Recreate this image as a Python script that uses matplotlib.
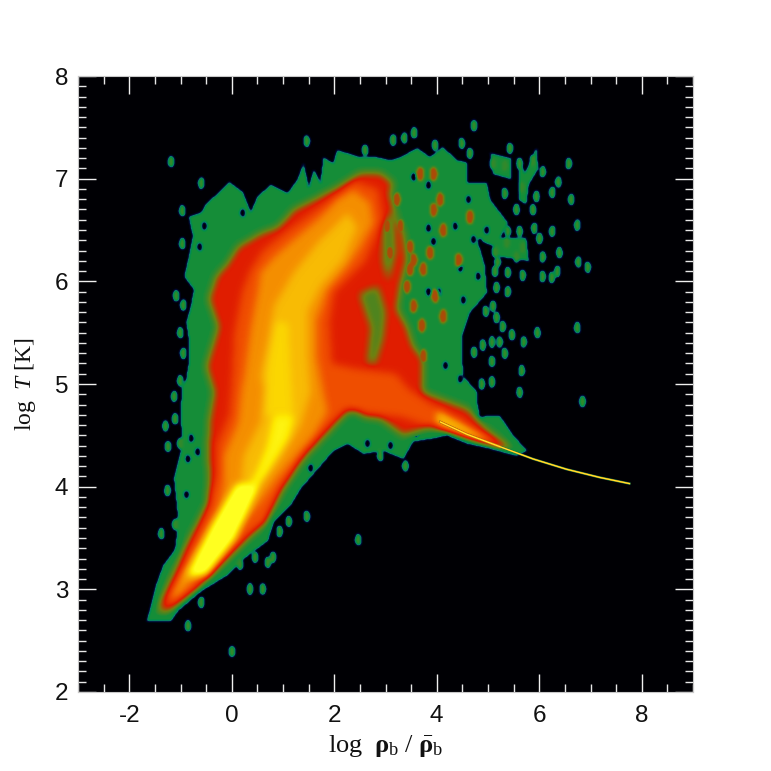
import numpy as np
import matplotlib
matplotlib.use("Agg")
import matplotlib.pyplot as plt
from matplotlib.colors import LinearSegmentedColormap
from matplotlib.path import Path

plt.rcParams["font.family"] = ["Liberation Sans", "DejaVu Sans"]
plt.rcParams["axes.unicode_minus"] = False
plt.rcParams["mathtext.fontset"] = "custom"
plt.rcParams["mathtext.rm"] = "Liberation Serif"
plt.rcParams["mathtext.it"] = "Liberation Serif:italic"
plt.rcParams["mathtext.bf"] = "Liberation Serif:bold"

# iso-density outlines (log rho, log T)
green_rho = [-1.66, -1.19, -1.05, -0.6, -0.08, 0.31, 0.7, 0.82, 1.15, 1.34, 1.67, 1.98, 2.26, 2.57, 2.96, 3.35,
             3.54, 3.93, 4.2, 4.59, 5.04, 5.56, 5.76, 5.49, 5.23, 4.84, 4.79, 4.79, 4.51, 4.49, 4.65, 4.98, 4.94,
             4.79, 5.14, 5.39, 5.04, 4.98, 4.59, 4.59, 4.4, 4.12, 3.87, 3.62, 3.29, 3.09, 2.84, 2.51, 2.06, 1.98,
             1.79, 1.73, 1.6, 1.5, 1.4, 1.28, 1.09, 0.76, 0.5, 0.37, 0.21, -0.06, -0.27, -0.5, -0.6, -0.84, -0.76,
             -0.84, -0.93, -0.74, -0.8, -0.89, -0.84, -0.84, -0.89, -0.97, -1.0, -0.97, -1.13, -1.06, -1.09,
             -1.13, -1.34, -1.48, -1.59]
green_t = [2.69, 2.69, 2.79, 2.98, 3.14, 3.33, 3.47, 3.66, 3.82, 3.98, 4.17, 4.35, 4.42, 4.32, 4.35, 4.27,
           4.44, 4.47, 4.5, 4.42, 4.37, 4.3, 4.35, 4.5, 4.69, 4.68, 4.82, 4.92, 5.08, 5.47, 5.7, 5.89, 6.15,
           6.41, 6.34, 6.57, 6.8, 6.96, 6.96, 7.16, 7.18, 7.31, 7.21, 7.3, 7.21, 7.18, 7.21, 7.21, 7.28, 7.15,
           7.21, 6.96, 7.09, 6.91, 7.15, 6.99, 6.86, 6.94, 6.83, 6.67, 6.87, 6.97, 6.86, 6.76, 6.67, 6.63, 6.44,
           6.24, 6.05, 5.92, 5.76, 5.6, 5.44, 5.21, 5.05, 4.98, 4.73, 4.4, 4.08, 3.75, 3.43,
           3.37, 3.23, 3.04, 2.82]

red_rho = [-1.44, -1.38, -1.13, -0.93, -0.66, -0.47, -0.45, -0.47, -0.45, -0.35, -0.5, -0.27, -0.45, -0.31, -0.08,
           0.12, 0.56, 0.89, 1.21, 1.6, 2.06, 2.51, 2.9, 3.15, 3.09, 3.23, 3.35, 3.42, 3.29, 3.23, 3.42, 3.54,
           3.74, 3.74, 4.59, 4.98, 5.43, 5.37, 4.84, 4.2, 3.87, 3.35, 2.9, 2.57, 2.37, 2.12, 1.73, 1.34, 1.09,
           0.76, 0.5, 0.12, -0.27, -0.74, -1.19]
red_t = [2.77, 2.91, 3.17, 3.4, 3.66, 3.85, 4.08, 4.34, 4.63, 4.92, 5.17, 5.56, 5.83, 6.05, 6.18,
         6.34, 6.47, 6.53, 6.7, 6.8, 6.92, 7.06, 7.06, 6.96, 6.86, 6.6, 6.48, 6.21, 5.95, 5.73, 5.56, 5.37,
         5.24, 4.92, 4.76, 4.56, 4.39, 4.35, 4.45, 4.56, 4.58, 4.5, 4.66, 4.68, 4.79, 4.66, 4.45, 4.24, 4.05,
         3.82, 3.62, 3.47, 3.23, 2.98, 2.79]

redorange_rho = [-1.3, -0.9, -0.5, -0.3, -0.3, -0.05, 0, 0.05, 0.2, 0.35, 0.6, 1.1, 1.7, 2.4, 2.85, 2.95, 2.6,
                 2.0, 1.9, 1.95, 2.4, 3.2, 3.45, 3.9, 4.5, 4.95, 4.5, 3.9, 3.3, 2.6, 2.2, 1.9, 1.45, 1, 0.65, 0.3,
                 -0.2, -0.7, -1.15]
redorange_t = [2.85, 3.3, 3.75, 4.1, 4.4, 4.7, 5.0, 5.5, 5.9, 6.1, 6.3, 6.5, 6.72, 6.98, 6.9, 6.6, 6.2,
               5.9, 5.6, 5.2, 5.15, 5.1, 4.95, 4.8, 4.65, 4.48, 4.5, 4.58, 4.68, 4.72, 4.75, 4.6, 4.35, 4.0, 3.65, 3.5,
               3.25, 3.0, 2.85]

orange_rho = [-1.25, -0.86, -0.54, -0.27, -0.16, -0.16, 0.12, 0.18, 0.23, 0.37, 0.5, 0.56, 0.82, 1.21, 1.67, 2.06,
              2.37, 2.7, 2.76, 2.51, 2.26, 1.87, 1.67, 1.67, 1.79, 1.87, 1.6, 1.21, 0.89, 0.56, 0.18, -0.21, -0.6, -1.05]
orange_t = [2.91, 3.23, 3.52, 3.76, 4.01, 4.3, 4.63, 4.92, 5.05, 5.56, 5.89, 6.09, 6.24, 6.41, 6.6, 6.8,
            6.89, 6.77, 6.57, 6.34, 6.15, 5.92, 5.63, 5.24, 4.92, 4.73, 4.5, 4.27, 4.08, 3.85, 3.62, 3.4, 3.17, 2.94]

amber_rho = [-1.05, -0.74, -0.41, -0.02, 0.18, 0.23, 0.56, 0.62, 0.56, 0.7, 0.82, 1.21, 1.73, 2.26, 2.45, 2.18,
             1.73, 1.48, 1.48, 1.54, 1.34, 0.95, 0.56, 0.18, -0.27, -0.66]
amber_t = [3.04, 3.33, 3.56, 3.82, 4.05, 4.3, 4.63, 4.95, 5.08, 5.41, 5.76, 6.09, 6.41, 6.67, 6.53, 6.21,
           5.95, 5.7, 5.31, 4.92, 4.59, 4.27, 4.01, 3.76, 3.52, 3.27]

yellow_rho = [-0.73, -0.54, -0.16, 0.23, 0.5, 0.7, 0.82, 1.21, 1.09, 0.7, 0.31, -0.08, -0.47, -0.74]
yellow_t = [3.25, 3.4, 3.66, 3.91, 4.15, 4.4, 4.69, 4.69, 4.47, 4.15, 3.85, 3.62, 3.4, 3.17]

upper_yellow_rho = [0.65, 0.7, 0.85, 1.1, 1.15, 1.2]
upper_yellow_t = [4.7, 5.2, 5.6, 5.6, 5.1, 4.7]

core_rho = [-0.85, -0.4, 0.1, 0.5, 0.05, -0.5]
core_t = [3.12, 3.6, 4.02, 4.0, 3.5, 3.15]

ridge_glow_rho = [4.0, 4.5, 5.0, 5.3, 4.5, 4.0]
ridge_glow_t = [4.74, 4.6, 4.46, 4.37, 4.5, 4.62]

# green pockets inside the red part and patches in the sparse upper right
pocket_a_rho = [2.5, 2.85, 3.0, 2.95, 2.8, 2.65, 2.72]
pocket_a_t = [5.88, 5.95, 5.7, 5.45, 5.2, 5.2, 5.55]
pocket_b_rho = [2.95, 3.15, 3.2, 3.05, 2.95]
pocket_b_t = [6.55, 6.7, 6.3, 6.0, 6.2]
patch_a_rho = [5.05, 5.1, 5.45, 5.45]
patch_a_t = [7.25, 7.05, 7.0, 7.2]
patch_b_rho = [5.62, 5.72, 5.95, 5.98, 5.8, 5.75, 5.6, 5.6]
patch_b_t = [7.2, 7.05, 7.3, 7.1, 6.95, 6.75, 6.8, 7.0]
patch_c_rho = [5.1, 5.75, 5.8, 5.15]
patch_c_t = [6.42, 6.42, 6.2, 6.25]

# red and olive specks in the sparse green part
speck_rho = [3.03, 3.22, 3.29, 3.09, 3.48, 3.55, 3.03, 3.09, 3.48, 3.74, 3.87, 3.94, 3.68, 4.13, 4.65, 4.43,
             3.97, 3.71, 3.29, 3.16, 3.48, 3.74, 3.29, 4.13, 3.55, 3.42, 3.94, 4.07]
speck_t = [6.54, 6.8, 6.54, 6.28, 6.34, 6.21, 6.05, 5.89, 6.12, 6.12, 6.28, 6.7, 7.05, 6.5, 6.63, 6.21,
           5.86, 5.57, 5.57, 5.37, 5.31, 5.27, 5.24, 5.66, 5.76, 5.95, 7.05, 6.8]

# the thin cold ridge on the right
ridge_rho = [4.07, 4.59, 5.23, 5.88, 6.53, 7.18, 7.76]
ridge_t = [4.63, 4.51, 4.39, 4.27, 4.17, 4.09, 4.03]

# isolated cells outside the main cloud
blob_rho = [-1.19, 1.46, 3.15, 2.6, -0.6, -0.97, -0.97, -1.09, -0.95, -1.01, -0.95, -1.01,
            -1.13, -1.3, -1.11, -1.25, -1.01, -1.26, -1.11, -1.38, -0.86, 0, 0.35, 0.6, -0.6,
            0.7, 0.8, 0.45, 0.16, 1.46, 1.11, 0.93, 2.47, 5.62, 6.85, 3.39, 2.9,
            4.73, 3.37, 3.56, 3.97, 4.49, 4.65, 5.43, 6.58, 6.38, 6.63, 6.75, 6.26, 6.01,
            6.07, 6.4, 6.36, 6.77, 6.95, 5.68, 6.07, 6.25, 5.39, 6.75, 5.97, 5.7, 5.47,
            5.33, 5.23, 5.08, 4.9, 5.08, 4.73, 5.66, 5.08, 4.88, 6.26, 6.07, 5.88, 5.62,
            5.1, 5.33, 5.66, 5.95, 5.33, 5.56, 5.88, 5.62, 5.39, 5.91, 5.68, 5.56, 5.19,
            5.14, 5.17, 5.14, 5.37, 5.39, 5.1, 5.17, 4.96, 5.29]
blob_t = [7.17, 7.37, 7.38, 7.28, 6.96, 6.69, 6.37, 5.86, 5.77, 5.5, 5.3, 5.03,
          4.88, 4.59, 4.66, 4.39, 4.42, 3.96, 3.63, 3.54, 2.64, 2.39, 3.0, 3.0, 2.87,
          3.26, 3.31, 3.31, 3.24, 3.71, 3.66, 3.56, 3.48, 4.92, 4.83, 4.2, 4.3,
          7.52, 7.4, 7.45, 7.33, 7.35, 7.25, 7.3, 7.15, 6.97, 6.8, 6.55, 6.49, 6.42,
          6.24, 6.28, 6.1, 6.19, 6.14, 6.06, 6.05, 6.04, 5.9, 5.55, 5.5, 5.41, 5.48,
          5.3, 5.41, 5.41, 5.38, 5.22, 5.31, 5.13, 5.02, 5.0, 6.87, 7.07, 7.18, 7.15,
          7.15, 7.13, 6.92, 6.83, 6.86, 6.7, 6.7, 6.49, 6.49, 6.52, 6.33, 6.24, 6.19,
          6.1, 5.94, 6.29, 6.38, 6.09, 5.76, 5.65, 5.71, 5.56]

# gaps inside the sparse green part and along the edges
hole_rho = [4.13, 4.36, 4.85, 4.52, 4.17, 3.84, 3.94, 3.84, 3.55, 3.84, 4.1, 4.62, 4.46, 4.04, 4.72, 4.46, 4.81,
            4.98, -0.54, -0.63, 0.21, -0.8, -0.86, -0.89, -0.67, 1.54, 2.65, 3.1, 3.6]
hole_t = [5.63, 6.54, 6.38, 5.82, 5.18, 6.52, 6.39, 5.9, 7.02, 6.94, 6.8, 6.8, 6.13, 5.9, 6.41, 5.05, 6.05,
          6.5, 6.54, 6.34, 6.67, 4.47, 4.27, 3.92, 4.34, 4.18, 4.42, 4.4, 4.52]

green_layers = [
    (green_rho, green_t, 2), (patch_a_rho, patch_a_t, 2), (patch_b_rho, patch_b_t, 2), (patch_c_rho, patch_c_t, 2),
]
inner_layers = [
    (red_rho, red_t, 4), (pocket_a_rho, pocket_a_t, 2.6), (pocket_b_rho, pocket_b_t, 2.6),
    (redorange_rho, redorange_t, 5), (ridge_glow_rho, ridge_glow_t, 7), (orange_rho, orange_t, 6),
    (amber_rho, amber_t, 7), (upper_yellow_rho, upper_yellow_t, 7.6), (yellow_rho, yellow_t, 8.5), (core_rho, core_t, 10),
]

cmap = LinearSegmentedColormap.from_list("phase", [
    (0.00, "#000004"), (0.06, "#000a38"), (0.12, "#0a7a70"), (0.20, "#069040"),
    (0.33, "#708010"), (0.44, "#e01c00"), (0.56, "#f05000"), (0.67, "#f59000"),
    (0.78, "#f8bb05"), (0.89, "#fde800"), (1.00, "#ffff20"),
])


def soften(a, kernel):
    out = a.copy()
    for i in range(out.shape[0]):
        out[i] = np.convolve(out[i], kernel, mode="same")
    for j in range(out.shape[1]):
        out[:, j] = np.convolve(out[:, j], kernel, mode="same")
    return out


def stamp(a, mesh_x, mesh_y, rho, t, value, half_x, half_y):
    for x0, y0 in zip(rho, t):
        a[((mesh_x - x0) / half_x) ** 2 + ((mesh_y - y0) / half_y) ** 2 < 1] = value


# paint the outlines on a one pixel grid, then soften the steps
grid_x = np.linspace(-3, 9, 615)
grid_y = np.linspace(2, 8, 616)
mesh_x, mesh_y = np.meshgrid(grid_x, grid_y)
points = np.column_stack([mesh_x.ravel(), mesh_y.ravel()])

outer = np.zeros(mesh_x.shape)
for rho, t, value in green_layers:
    mask = Path(np.column_stack([rho, t])).contains_points(points).reshape(mesh_x.shape)
    outer[mask] = value
inner = outer.copy()
for rho, t, value in inner_layers:
    mask = Path(np.column_stack([rho, t])).contains_points(points).reshape(mesh_x.shape)
    inner[mask] = value

stamp(outer, mesh_x, mesh_y, hole_rho, hole_t, 0, 0.05, 0.04)
stamp(outer, mesh_x, mesh_y, speck_rho, speck_t, 3.5, 0.08, 0.07)
stamp(outer, mesh_x, mesh_y, blob_rho, blob_t, 2.3, 0.06, 0.055)

mid = np.array([1, 2, 3, 2, 1], dtype=float) / 9
wide = np.array([1, 2, 3, 4, 5, 6, 7, 8, 9, 8, 7, 6, 5, 4, 3, 2, 1], dtype=float) / 81
outer = soften(outer, mid)
inner = soften(inner, wide)
level = np.where(inner > 2.05, np.maximum(inner, outer), outer)

fig = plt.figure(figsize=(7.71, 7.71), dpi=100)
ax = fig.add_axes([78 / 771, 1 - 692 / 771, 615 / 771, 616 / 771])
ax.set_facecolor("#000004")
ax.imshow(level, cmap=cmap, vmin=0, vmax=9, aspect="auto", origin="lower",
          interpolation="nearest", extent=[-3, 9, 2, 8], zorder=1)

n_wide = 3
ax.plot(ridge_rho[:n_wide], ridge_t[:n_wide], color="#f07000", lw=1.8, zorder=5, solid_capstyle="round")
ax.plot(ridge_rho, ridge_t, color="#0a8050", lw=1.7, zorder=4)
ax.plot(ridge_rho, ridge_t, color="#f07000", lw=1.1, zorder=6)
ax.plot(ridge_rho, ridge_t, color="#ffee30", lw=0.8, zorder=7)

ax.set_xlim(-3, 9)
ax.set_ylim(2, 8)
ax.set_xticks([-2, 0, 2, 4, 6, 8])
ax.set_yticks([2, 3, 4, 5, 6, 7, 8])
ax.set_xticks(np.arange(-3, 9.01, 0.5), minor=True)
ax.set_yticks(np.arange(2, 8.01, 0.1), minor=True)
ax.tick_params(which="major", direction="in", length=13, width=1.0, color="#f0f0f0",
               top=True, right=True, labelsize=17.5, labelcolor="#111111")
ax.tick_params(which="minor", direction="in", length=6, width=1.0, color="#e8e8e8",
               top=True, right=True)
ax.tick_params(axis="x", which="major", pad=9)
ax.tick_params(axis="y", which="major", pad=7)
for spine in ax.spines.values():
    spine.set_color("#c8c8c8")
    spine.set_linewidth(0.8)

ax.set_xlabel(r"$\mathrm{log}\ \ \mathbf{\rho}_{\mathrm{b}}\ /\ \bar{\mathbf{\rho}}_{\mathrm{b}}$",
              fontsize=19, labelpad=5, color="#111111")
ax.set_ylabel(r"$\mathrm{log}\ \ \mathit{T}\ \mathrm{[K]}$", fontsize=17, labelpad=12, color="#111111")

fig.savefig("out.png", dpi=100)
plt.close(fig)
